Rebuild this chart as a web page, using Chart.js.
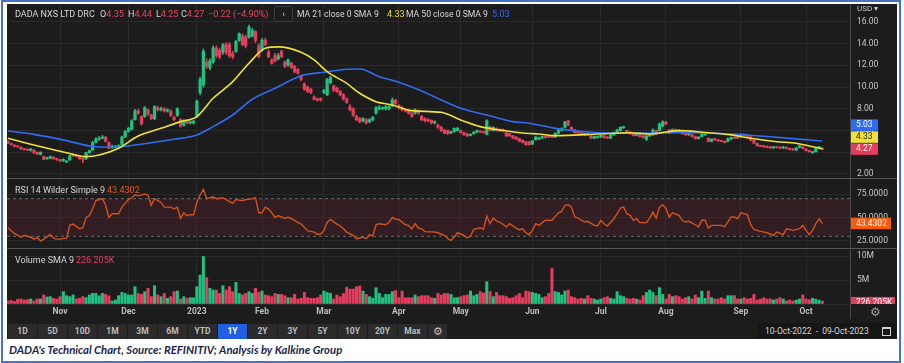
<!DOCTYPE html>
<html>
<head>
<meta charset="utf-8">
<script src="https://cdn.jsdelivr.net/npm/chart.js@4.4.0/dist/chart.umd.min.js"></script>
<style>
  body { margin: 0; width: 904px; height: 363px; background: #fff; position: relative; overflow: hidden;
         font-family: Roboto, "Liberation Sans", sans-serif; }
  #frame { position: absolute; left: 1px; top: 0; width: 896px; height: 359px; border: 2px solid #4472c4; }
  #dark { position: absolute; left: 7px; top: 4px; width: 890px; height: 335px; background: #1c1c1c; }
  canvas { position: absolute; left: 7px; }
  .t { position: absolute; white-space: nowrap; font-size: 9px; color: #d6d6d6; line-height: 12px; }
  .h { font-size: 8.6px; }
  .red { color: #e8465f; }
  .sep { position: absolute; left: 7px; width: 890px; height: 1px; background: #575757; }
  #axisline { position: absolute; left: 850px; top: 4px; width: 1px; height: 315px; background: #4a4a4a; }
  .btn { position: absolute; top: 324px; width: 29px; height: 15px; background: #2b2b2b; color: #bcbcbc;
         font-size: 8.5px; font-weight: bold; text-align: center; line-height: 15px; }
  .btn.on { background: #1f5fe0; color: #fff; }
  #dates { position: absolute; left: 758px; top: 323px; width: 139px; height: 16px; background: #161616;
           color: #d8d8d8; font-size: 8.5px; line-height: 16px; }
  #caption { position: absolute; left: 9px; top: 343px; font-family: Lato, "Open Sans", sans-serif; font-size: 11.3px;
             font-weight: bold; font-style: italic; color: #1b2647; white-space: nowrap; }
</style>
</head>
<body>
<div id="frame"></div>
<div id="dark"></div>
<canvas id="priceChart" width="890" height="174" style="top:4px"></canvas>
<canvas id="rsiChart" width="890" height="68" style="top:180px"></canvas>
<canvas id="volChart" width="890" height="69" style="top:250px"></canvas>
<div class="sep" style="top:178px"></div>
<div class="sep" style="top:248px"></div>
<div id="axisline"></div>

<div class="t" style="left:15px;top:8px">DADA NXS LTD DRC</div>
<div class="t" style="left:100px;top:8px">O<span class="red">4.35</span></div>
<div class="t" style="left:128px;top:8px">H<span class="red">4.44</span></div>
<div class="t" style="left:156px;top:8px">L<span class="red">4.25</span></div>
<div class="t" style="left:181px;top:8px">C<span class="red">4.27</span></div>
<div class="t red" style="left:208px;top:8px">−0.22 (−4.90%)</div>
<div class="t" style="left:274px;top:6px;width:17px;height:14px;border:1px solid #3c3c3c;border-radius:2px;text-align:center;line-height:14px;">‹</div>
<div class="t h" style="left:297px;top:8px">MA 21 close 0 SMA 9</div>
<div class="t" style="left:387px;top:8px;color:#e9dd38">4.33</div>
<div class="t h" style="left:406px;top:8px">MA 50 close 0 SMA 9</div>
<div class="t" style="left:492px;top:8px;color:#2f6cf5">5.03</div>
<div class="t" style="left:857px;top:3px;font-size:8px;color:#c8c8c8">USD ▾</div>

<div class="t" style="left:15px;top:184px">RSI 14 Wilder Simple 9</div>
<div class="t" style="left:107px;top:184px;color:#e8571c">43.4302</div>
<div class="t" style="left:15px;top:254px">Volume SMA 9</div>
<div class="t" style="left:76px;top:254px;color:#e0405e">226.205K</div>
<div class="t" style="left:870px;top:306px;font-size:12px;color:#9a9a9a">⚙</div>

<div id="toolbar"></div>
<div id="dates"><span style="margin-left:7px">10-Oct-2022&nbsp;&nbsp;-&nbsp;&nbsp;09-Oct-2023</span>
  <span style="position:absolute;left:124px;top:4px;width:7px;height:6px;border:1px solid #cfcfcf;border-top-width:2px"></span></div>
<div id="caption">DADA's Technical Chart, Source: REFINITIV; Analysis by Kalkine Group</div>

<script>
// one entry per trading day, 10-Oct-2022 .. 09-Oct-2023 (251 days)
var opens = [
  5.00,4.80,4.65,4.55,4.45,4.30,4.25,4.15,4.20,4.00, 3.80,3.60,3.40,3.45,3.55,3.40,3.30,3.20,3.10,3.30,
  3.70,3.75,3.60,3.45,3.40,3.95,4.20,4.90,5.20,5.30, 5.40,4.90,4.40,4.48,4.50,4.70,5.40,5.90,6.10,7.00,
  7.80,7.30,7.30,7.90,7.40,7.10,8.10,7.90,8.00,7.80, 7.80,7.20,7.40,7.00,6.50,6.90,6.70,6.70,7.30,9.50,
  10.20,12.30,11.80,12.30,13.60,13.40,13.20,13.90,13.90,13.10, 13.30,14.30,14.70,14.60,14.60,14.70,15.10,13.80,13.40,14.30,
  13.20,12.50,12.90,12.60,13.30,12.30,12.00,12.20,11.90,11.60, 11.00,10.30,10.00,9.80,9.10,8.90,8.95,9.50,9.30,10.40,
  10.10,9.90,9.60,9.30,8.90,8.20,8.00,7.30,7.10,6.90, 7.00,6.80,7.00,7.60,8.00,8.00,8.00,8.00,8.30,8.80,
  8.30,8.10,7.90,7.80,7.60,7.60,7.80,7.30,7.10,7.00, 6.95,6.70,6.50,6.30,6.05,6.00,5.75,5.90,6.00,6.00,
  5.80,5.70,5.55,5.70,5.85,5.95,5.90,5.65,6.30,6.00, 6.20,6.10,6.10,5.80,5.70,5.50,5.40,5.25,5.10,4.98,
  4.95,4.75,5.15,5.20,5.30,5.45,5.50,5.50,5.40,5.75, 6.00,6.30,6.90,6.30,6.05,5.85,5.80,5.60,5.75,5.50,
  5.30,5.35,5.40,5.50,5.40,5.30,5.60,5.80,6.00,6.25, 6.00,5.85,5.70,5.55,5.60,5.50,5.15,5.50,5.60,6.00,
  6.00,6.40,6.80,6.05,5.85,6.10,6.05,5.90,5.75,5.60, 5.60,5.45,5.25,5.45,5.60,5.30,5.00,5.25,5.15,5.05,
  5.00,5.00,5.20,5.35,5.35,5.45,5.65,5.55,5.40,5.10, 4.80,4.60,4.60,4.55,4.50,4.40,4.50,4.45,4.38,4.45,
  4.35,4.30,4.20,4.45,4.50,4.30,4.15,3.95,4.05,4.35, 4.35
];
var highs = [
  5.05,4.85,4.70,4.60,4.50,4.35,4.30,4.35,4.25,4.05, 4.05,3.65,3.55,3.65,3.60,3.45,3.35,3.40,3.25,3.75,
  3.85,3.80,3.65,3.50,4.00,4.20,5.00,5.35,5.45,5.55, 5.45,4.95,4.65,4.60,4.70,5.50,6.00,6.30,7.00,7.95,
  7.95,7.35,8.20,8.00,7.50,8.30,8.25,8.15,8.10,8.00, 7.90,7.30,8.10,7.10,7.00,6.95,6.90,6.95,8.80,10.90,
  13.50,12.60,12.60,13.80,13.80,13.60,14.00,14.10,14.10,13.30, 14.30,15.00,14.90,14.80,15.70,15.40,15.20,14.00,14.50,14.50,
  13.40,12.60,13.10,13.10,13.40,12.40,12.60,12.30,12.00,11.70, 11.10,10.40,10.10,9.90,9.20,9.00,9.00,9.80,10.80,11.00,
  10.20,10.00,9.70,9.40,9.00,8.40,8.10,7.40,7.20,7.20, 7.10,7.10,7.30,8.20,8.30,8.20,8.30,8.30,9.00,8.90,
  8.40,8.20,8.00,7.90,7.70,8.00,7.90,7.40,7.20,7.10, 7.00,6.90,6.60,6.40,6.10,6.05,5.95,6.25,6.30,6.05,
  5.85,5.75,5.70,5.90,6.05,6.00,5.95,7.00,6.40,6.35, 6.25,6.15,6.15,5.85,5.75,5.55,5.45,5.30,5.15,5.00,
  5.00,5.10,5.45,5.40,5.50,5.50,5.55,5.55,5.80,6.10, 6.25,6.85,6.95,6.35,6.10,5.90,5.85,5.75,5.80,5.55,
  5.50,5.50,5.60,5.55,5.45,5.65,5.85,6.10,6.35,6.40, 6.05,5.90,5.75,5.75,5.65,5.55,5.55,5.70,6.15,6.05,
  6.70,6.90,6.85,6.10,6.15,6.15,6.10,5.95,5.80,5.80, 5.65,5.50,5.45,5.75,5.70,5.35,5.25,5.30,5.20,5.10,
  5.05,5.30,5.40,5.40,5.40,5.70,5.70,5.60,5.45,5.15, 4.85,4.65,4.65,4.60,4.55,4.55,4.55,4.50,4.55,4.50,
  4.40,4.35,4.45,4.65,4.55,4.35,4.20,4.10,4.40,4.55, 4.44
];
var lows = [
  4.80,4.65,4.50,4.45,4.25,4.20,4.15,4.10,3.90,3.80, 3.75,3.30,3.35,3.40,3.35,3.25,3.15,3.15,3.05,3.25,
  3.65,3.55,3.35,3.05,3.35,3.90,4.15,4.85,5.10,5.25, 4.95,4.30,4.35,4.40,4.45,4.65,5.35,5.85,6.05,6.95,
  7.50,6.50,7.20,7.40,7.00,7.00,7.80,7.80,7.70,7.70, 7.30,6.90,7.30,6.30,6.40,6.60,6.60,6.60,7.20,9.30,
  10.00,11.70,11.60,12.20,12.70,12.60,13.00,13.00,12.70,12.60, 13.20,14.20,13.80,13.60,14.50,14.60,14.10,12.70,13.30,13.80,
  12.70,12.10,12.30,12.50,12.70,11.80,11.90,11.70,11.30,11.20, 10.60,9.70,9.50,9.40,8.80,8.70,8.70,9.40,9.20,10.30,
  9.60,9.50,9.20,8.80,8.50,7.80,7.30,6.90,6.70,6.80, 6.60,6.70,6.90,7.50,7.90,7.90,7.90,7.90,8.20,8.40,
  8.00,7.80,7.70,7.50,7.20,7.50,7.50,6.90,6.80,6.80, 6.60,6.60,6.20,5.90,5.70,5.65,5.70,5.85,5.95,5.75,
  5.55,5.45,5.50,5.65,5.80,5.80,5.75,5.60,5.95,5.95, 5.95,5.90,5.90,5.45,5.45,5.25,5.15,4.95,4.85,4.65,
  4.65,4.70,5.10,5.15,5.25,5.30,5.35,5.35,5.35,5.70, 5.95,6.25,6.45,6.00,5.75,5.70,5.55,5.55,5.55,5.25,
  5.25,5.30,5.35,5.30,5.25,5.25,5.55,5.75,5.95,6.20, 5.75,5.65,5.50,5.50,5.40,5.30,5.10,5.45,5.55,5.60,
  5.95,6.35,6.55,5.70,5.80,5.95,5.85,5.65,5.55,5.55, 5.40,5.20,5.20,5.40,5.55,4.95,4.95,5.10,5.00,4.95,
  4.85,4.95,5.15,5.25,5.25,5.40,5.50,5.40,5.05,4.80, 4.55,4.50,4.45,4.40,4.35,4.35,4.38,4.33,4.33,4.30,
  4.20,4.18,4.15,4.40,4.30,4.10,4.00,3.90,4.00,4.30, 4.25
];
var closes = [
  4.85,4.70,4.55,4.50,4.30,4.25,4.20,4.30,3.95,3.85, 4.00,3.35,3.50,3.60,3.40,3.30,3.20,3.35,3.20,3.70,
  3.80,3.60,3.40,3.35,3.95,4.15,4.90,5.20,5.30,5.40, 5.00,4.40,4.55,4.52,4.60,5.40,5.90,6.20,6.90,7.80,
  7.60,6.60,8.10,7.50,7.10,8.20,7.90,8.00,7.80,7.90, 7.40,7.00,8.00,6.40,6.90,6.70,6.80,6.85,8.70,10.70,
  13.30,11.90,12.40,13.60,12.90,12.80,13.90,13.20,12.90,12.80, 14.20,14.90,13.90,13.80,15.50,15.20,14.30,12.80,14.30,13.90,
  12.80,12.20,12.40,12.90,12.80,11.90,12.50,11.80,11.40,11.30, 10.70,9.80,9.60,9.50,8.85,8.80,8.80,9.70,10.70,10.90,
  9.70,9.60,9.30,8.90,8.60,7.90,7.40,7.00,6.80,7.10, 6.70,7.00,7.20,8.10,8.10,8.10,8.20,8.20,8.80,8.50,
  8.10,7.90,7.80,7.60,7.30,7.90,7.60,7.00,6.90,6.90, 6.70,6.80,6.30,6.00,5.75,5.70,5.90,6.20,6.20,5.80,
  5.60,5.50,5.65,5.85,6.00,5.85,5.80,6.90,6.00,6.30, 6.00,5.95,5.95,5.50,5.50,5.30,5.20,5.00,4.90,4.70,
  4.70,5.05,5.40,5.35,5.45,5.35,5.40,5.40,5.75,6.05, 6.20,6.80,6.50,6.05,5.80,5.75,5.60,5.70,5.60,5.30,
  5.45,5.45,5.55,5.35,5.30,5.60,5.80,6.05,6.30,6.35, 5.80,5.70,5.55,5.70,5.45,5.35,5.50,5.60,6.05,5.65,
  6.60,6.80,6.60,5.75,6.10,6.00,5.90,5.70,5.60,5.75, 5.45,5.25,5.40,5.70,5.65,5.00,5.20,5.15,5.05,5.00,
  4.90,5.25,5.35,5.30,5.30,5.65,5.55,5.45,5.10,4.85, 4.60,4.55,4.50,4.45,4.40,4.50,4.42,4.38,4.50,4.35,
  4.25,4.22,4.40,4.60,4.35,4.15,4.05,4.05,4.35,4.49, 4.27
];
// volume, millions of shares
var volumes = [
  0.63,0.75,0.50,1.00,1.04,0.83,0.90,1.04,0.63,1.04, 1.04,1.88,1.46,1.53,1.18,1.04,1.53,2.57,1.74,1.53,
  1.88,1.04,1.18,1.53,1.32,1.88,2.20,2.20,1.70,2.20, 2.00,1.70,0.63,0.83,1.74,2.40,2.20,1.88,1.88,3.60,
  2.20,2.00,2.57,3.26,1.53,3.80,1.88,1.53,2.20,1.18, 1.53,2.57,2.70,1.04,1.53,1.18,1.32,1.30,3.60,6.00,
  9.90,5.50,3.26,2.90,2.90,2.20,3.80,2.90,3.60,2.57, 4.50,2.20,1.88,2.20,2.57,2.20,3.26,2.40,2.70,1.88,
  1.74,1.53,2.20,2.00,2.00,1.74,1.32,1.32,2.00,1.04, 1.18,2.40,1.32,1.18,1.18,1.32,1.88,2.70,2.40,2.20,
  1.04,1.88,1.53,2.20,3.50,3.10,3.10,3.60,3.75,2.70, 2.00,1.53,1.18,3.40,2.20,1.32,2.00,2.00,2.57,2.78,
  1.32,2.70,1.32,1.32,1.32,1.88,1.53,1.74,1.74,1.74, 1.32,1.18,2.20,1.88,2.20,2.20,2.00,1.32,1.32,1.53,
  1.74,1.88,2.70,1.74,2.00,2.57,2.30,4.65,2.57,1.53, 2.40,1.74,1.74,1.53,1.18,1.32,1.74,2.20,1.32,2.70,
  2.57,2.40,2.20,2.00,1.32,1.53,2.20,7.40,2.57,2.40, 1.88,2.70,2.90,1.53,1.32,1.04,1.18,1.04,1.74,1.18,
  1.04,0.83,1.04,1.32,1.53,1.18,1.04,2.57,1.74,1.53, 1.18,1.04,1.18,1.04,0.83,1.74,2.40,2.90,2.40,1.74,
  3.40,2.00,1.04,2.00,1.53,1.74,1.53,1.04,1.32,1.53, 1.04,1.88,1.32,2.70,1.18,2.70,1.32,1.04,1.04,1.32,
  1.04,1.74,1.74,1.74,1.04,1.04,1.32,1.04,1.18,2.00, 0.83,1.04,1.32,1.04,1.04,0.83,1.04,1.32,1.04,0.63,
  0.83,0.63,0.83,1.04,1.88,1.04,0.90,1.20,1.00,0.80, 0.60
];
// moving averages at these day indexes
var ma21Idx = [0,8,18,24,28,34,40,47,53,58,63,69,74,79,83,90,94,98,104,108,113,118,124,133,139,145,151,159,163,168,181,191,197,206,215,222,228,236,242,246,250];
var ma21Val = [5.29,4.67,3.96,3.60,3.75,4.37,5.50,6.20,6.82,7.28,8.97,10.50,12.20,13.57,13.70,13.20,12.50,11.42,10.35,9.43,8.66,8.35,7.83,7.68,6.97,6.36,6.05,5.75,5.68,5.53,5.68,5.80,5.68,5.99,5.80,5.60,5.29,4.97,4.83,4.58,4.33];
var ma50Idx = [0,8,18,25,31,37,44,51,58,63,69,75,82,90,97,104,108,114,120,127,133,139,147,155,160,168,179,191,206,222,234,246,250];
var ma50Val = [5.96,5.65,5.07,4.58,4.46,4.58,4.88,5.19,5.60,6.36,7.43,8.88,9.89,11.05,11.36,11.64,11.67,10.96,10.44,9.64,8.81,8.05,7.43,6.82,6.67,6.20,5.84,5.75,5.80,5.68,5.43,5.13,5.03];
// RSI 14
var rsiIdx = [0,2,4,5,7,8,9,10,11,13,14,15,16,18,19,20,22,23,24,25,26,27,29,30,31,32,34,35,37,38,39,40,42,43,44,45,47,48,50,51,52,53,54,55,56,57,58,59,60,61,63,64,66,67,69,70,72,73,75,76,77,78,79,80,81,82,83,85,86,88,90,92,94,95,96,97,98,99,101,102,103,104,106,107,109,110,111,112,113,114,116,117,118,119,120,122,123,124,125,126,127,128,131,132,134,135,136,137,138,140,141,142,143,145,146,147,148,149,150,151,153,154,156,157,158,159,160,161,162,163,165,166,167,169,170,171,172,173,174,175,177,178,180,181,182,183,184,186,187,188,189,190,191,192,193,194,196,197,198,199,200,201,202,203,204,206,207,208,209,211,212,213,214,215,216,219,220,222,223,224,225,227,228,229,231,233,235,236,238,239,241,242,243,244,245,246,247,248,249,250];
var rsiVal = [39,33,29,31,29,27,29,25,27,32,28,27,27,28,42,43,38,39,50,52,59,68,70,63,50,54,54,61,69,71,74,73,75,74,63,70,66,61,61,59,61,49,55,52,53,53,66,74,80,70,72,70,71,69,65,69,68,69,70,71,55,55,61,59,55,50,52,49,50.5,47,43,36,34.5,32,32.4,36,45,48,43,41,38,34.5,31,27.4,29,27.4,31.7,30.3,42.3,43.4,42.3,45,50,48,48,42.3,41.6,38,43.4,38.8,38,35,34.5,33.8,31,27.4,25.7,29,33.8,31,28.2,30.3,37.4,39,37.4,51.6,43.4,49.4,46.2,45.2,40,43.4,38.8,37,38,33.8,31.7,36.3,43.4,41.6,47,47,47,55,56.5,63,63.6,61,50.5,49.4,45.2,45.9,41.6,41,47,43.4,41,48.7,54,60,61,54,52.3,47,48.7,44.5,44.5,49.4,55.8,49.4,61,63.6,59.4,50.5,55,52.3,47,45.2,45.9,42.3,40,47,47,38.8,41.6,41.6,40,50.5,50.5,48.7,55,53,42.3,37.4,35.2,33.8,31,34.5,31.7,38,36.3,37.4,38.1,41.6,36.3,31.7,36.3,43.4,48.7,43.43];

var monthIdx = [16,37,58,78,97,120,139,161,182,202,225,245];
var monthLbl = ['Nov','Dec','2023','Feb','Mar','Apr','May','Jun','Jul','Aug','Sep','Oct'];
var priceTicks = [2,4,6,8,10,12,14,16];
var rsiTicks = [25,50,75];
var volTicks = [0,5,10];

var lastMa50 = 5.03, lastMa21 = 4.33, lastClose = 4.27, lastRsi = 43.4302, lastVolSma = 0.226205;

var GREEN = '#22c17f', RED = '#e33e5d', GRID = '#2a2a2a';
var X_MIN = -0.28, X_MAX = 258.8;

Chart.defaults.font.family = 'Roboto, "Liberation Sans", sans-serif';

var candleColor = opens.map((o, i) => closes[i] >= o ? GREEN : RED);

function xAxis(showLabels) {
    return {
        type: 'linear', min: X_MIN, max: X_MAX, offset: false,
        afterBuildTicks: s => { s.ticks = monthIdx.map(v => ({ value: v })); },
        afterFit: s => { s.height = showLabels ? 15 : 0; s.paddingLeft = 0; s.paddingRight = 0; },
        grid: { color: GRID, drawTicks: false, offset: false },
        border: { display: false },
        ticks: {
            display: showLabels, autoSkip: false, maxRotation: 0, padding: 3,
            color: '#bdbdbd', font: { size: 8.5, weight: 'bold' },
            callback: v => monthLbl[monthIdx.indexOf(v)]
        }
    };
}

function yAxis(min, max, ticks, fmt) {
    return {
        position: 'right', min: min, max: max,
        afterBuildTicks: s => { s.ticks = ticks.map(v => ({ value: v })); },
        afterFit: s => { s.width = 46; s.paddingTop = 0; s.paddingBottom = 0; },
        grid: { color: GRID, drawTicks: false },
        border: { display: false },
        ticks: { color: '#c8c8c8', font: { size: 8.5 }, padding: 6, callback: fmt }
    };
}

// last-value tags on the right axis, pushed upward when they overlap
var tagPlugin = {
    id: 'tags',
    afterDraw(chart, args, opts) {
        var ctx = chart.ctx, area = chart.chartArea, ys = chart.scales.y;
        var prevTop = Infinity;
        ctx.save();
        ctx.beginPath();
        ctx.rect(area.right, area.top, chart.width - area.right, area.bottom - area.top);
        ctx.clip();
        opts.items.slice().sort((a, b) => a.value - b.value).forEach(t => {
            var top = ys.getPixelForValue(t.value) - 6;
            if (top + 12 > prevTop) top = prevTop - 12;
            ctx.fillStyle = t.bg;
            ctx.fillRect(area.right, top, t.width, 11.5);
            ctx.fillStyle = t.fg;
            ctx.font = '8.5px Roboto, "Liberation Sans", sans-serif';
            ctx.textBaseline = 'middle';
            ctx.fillText(t.text, area.right + 5, top + 6);
            prevTop = top;
        });
        ctx.restore();
    }
};

function baseOptions(yCfg, showLabels, tags) {
    return {
        responsive: false, animation: false, events: [],
        layout: { padding: 0 },
        plugins: { legend: { display: false }, tooltip: { enabled: false }, tags: { items: tags } },
        scales: { x: xAxis(showLabels), y: yCfg }
    };
}

// Price panel
new Chart(document.getElementById('priceChart').getContext('2d'), {
    type: 'bar',
    data: {
        datasets: [{
            type: 'line',
            data: ma21Idx.map((x, k) => ({ x: x, y: ma21Val[k] })),
            borderColor: '#f0e234', borderWidth: 1.6, pointRadius: 0,
            cubicInterpolationMode: 'monotone', order: 0
        }, {
            type: 'line',
            data: ma50Idx.map((x, k) => ({ x: x, y: ma50Val[k] })),
            borderColor: '#2f6cf5', borderWidth: 1.6, pointRadius: 0,
            cubicInterpolationMode: 'monotone', order: 0
        }, {
            data: opens.map((o, i) => ({ x: i, y: [o, closes[i]] })),
            backgroundColor: candleColor, barThickness: 2.6, minBarLength: 1,
            grouped: false, order: 1
        }, {
            data: opens.map((o, i) => ({ x: i, y: [lows[i], highs[i]] })),
            backgroundColor: candleColor, barThickness: 1,
            grouped: false, order: 2
        }]
    },
    options: baseOptions(yAxis(1.63, 17.65, priceTicks, v => v.toFixed(2)), false, [
        { value: lastClose, text: '4.27', bg: '#e33e5d', fg: '#fff', width: 27 },
        { value: lastMa21, text: '4.33', bg: '#f0e234', fg: '#222', width: 27 },
        { value: lastMa50, text: '5.03', bg: '#2f6cf5', fg: '#fff', width: 27 }
    ]),
    plugins: [tagPlugin]
});

// RSI panel
new Chart(document.getElementById('rsiChart').getContext('2d'), {
    type: 'line',
    data: {
        datasets: [{
            data: rsiIdx.map((x, k) => ({ x: x, y: rsiVal[k] })),
            borderColor: '#d4531b', borderWidth: 1.4, pointRadius: 0, tension: 0
        }, {
            data: [{ x: X_MIN, y: 70 }, { x: X_MAX, y: 70 }],
            borderColor: '#6e6e6e', borderWidth: 1, borderDash: [3, 3], pointRadius: 0,
            fill: '+1', backgroundColor: 'rgba(128,38,60,0.22)'
        }, {
            data: [{ x: X_MIN, y: 30 }, { x: X_MAX, y: 30 }],
            borderColor: '#6e6e6e', borderWidth: 1, borderDash: [3, 3], pointRadius: 0
        }]
    },
    options: baseOptions(yAxis(17.55, 89.9, rsiTicks, v => v.toFixed(4)), false, [
        { value: lastRsi, text: '43.4302', bg: '#ff5a0a', fg: '#fff', width: 40 }
    ]),
    plugins: [tagPlugin]
});

// Volume panel
new Chart(document.getElementById('volChart').getContext('2d'), {
    type: 'bar',
    data: {
        datasets: [{
            data: volumes.map((v, i) => ({ x: i, y: v })),
            backgroundColor: candleColor, barThickness: 2.4, grouped: false
        }]
    },
    options: baseOptions(yAxis(0, 11.25, volTicks, v => v ? v + 'M' : ''), true, [
        { value: lastVolSma, text: '226.205K', bg: '#e0405e', fg: '#fff', width: 44 }
    ]),
    plugins: [tagPlugin]
});

// range buttons under the chart
var ranges = ['1D','5D','10D','1M','3M','6M','YTD','1Y','2Y','3Y','5Y','10Y','20Y','Max','⚙'];
var bar = document.getElementById('toolbar');
ranges.forEach((r, k) => {
    var b = document.createElement('div');
    b.className = 'btn' + (r === '1Y' ? ' on' : '');
    b.style.left = (8 + k * 30) + 'px';
    if (r === '⚙') { b.style.width = '19px'; b.style.fontSize = '11px'; b.style.fontWeight = 'normal'; }
    b.textContent = r;
    bar.appendChild(b);
});
</script>
</body>
</html>
